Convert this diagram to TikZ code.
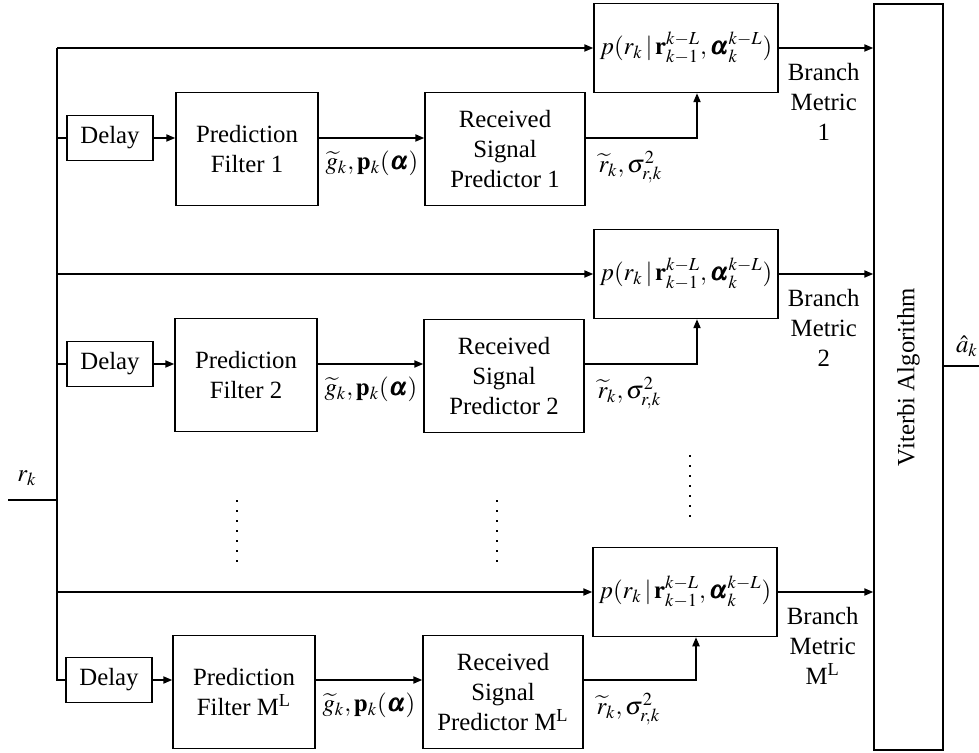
\documentclass[tikz,border=0pt]{standalone}
\usepackage{mathptmx}
\usepackage{bm}
\usepackage{fontspec}
\setmainfont{Liberation Serif}
\usetikzlibrary{arrows.meta, positioning}

\newcommand{\probtxt}{$p(r_k\,|\,\mathbf{r}_{k-1}^{k-L},\bm{\alpha}_k^{k-L})$}
\newcommand{\gtxt}{$\widetilde{g}_k,\mathbf{p}_k(\bm{\alpha})$}
\newcommand{\rtxt}{$\widetilde{r}_k,\sigma_{r,k}^2$}

\begin{document}
\begin{tikzpicture}[x=0.5pt, y=-0.5pt, line width=0.75pt,
    >={Triangle[length=4.5pt,width=3.6pt]},
    font=\fontsize{12.4}{15}\selectfont,
    blk/.style={draw, inner sep=1pt, align=center},
    delaybox/.style={blk, minimum width=43pt, minimum height=22.5pt},
    filterbox/.style={blk, minimum width=71pt, minimum height=56.5pt},
    predbox/.style={blk, minimum width=80pt, minimum height=56.5pt},
    probbox/.style={blk, minimum width=92pt, minimum height=44.5pt},
    lbl/.style={inner sep=1pt, anchor=north west},
    vdots/.style={line width=1pt, dash pattern=on 0.8pt off 4.2pt}
  ]
  \useasboundingbox (0,0) rectangle (979,753);

  % branch 1
  \node[delaybox] (d1) at (110,138) {Delay};
  \node[filterbox] (f1) at (247,149) {Prediction\\Filter 1};
  \node[predbox] (s1) at (505,149) {Received\\Signal\\Predictor 1};
  \node[probbox] (p1) at (686,48) {\probtxt};

  % branch 2
  \node[delaybox] (d2) at (110,364) {Delay};
  \node[filterbox] (f2) at (246,375) {Prediction\\Filter 2};
  \node[predbox] (s2) at (504,376) {Received\\Signal\\Predictor 2};
  \node[probbox] (p2) at (686,274) {\probtxt};

  % branch M^L
  \node[delaybox] (d3) at (109,680) {Delay};
  \node[filterbox] (f3) at (244,692) {Prediction\\Filter M\textsuperscript{L}};
  \node[predbox] (s3) at (503,692) {Received\\Signal\\Predictor M\textsuperscript{L}};
  \node[probbox] (p3) at (685,592) {\probtxt};

  % viterbi
  \node[blk, minimum width=34.5pt, minimum height=373pt] (vit) at (908.5,377) {};
  \node[rotate=90] at (vit) {Viterbi Algorithm};

  % input and bus
  \coordinate (in) at (8,500);
  \coordinate (bus) at (57,500);
  \node (rk) at (27,478) {$r_k$};
  \draw (in) -- (bus);
  \draw (bus |- p1.west) -- (bus |- d3.west) -- (d3.west);

  \foreach \i/\n in {1/1,2/2,3/M\textsuperscript{L}} {
    \draw[->] (bus |- p\i.west) -- (p\i.west);
    \draw[->] (d\i.east) -- (d\i.east -| f\i.west);
    \draw[->] (d\i.east -| f\i.east) -- (d\i.east -| s\i.west);
    \node[lbl] at ([xshift=2pt,yshift=-5pt]d\i.east -| f\i.east) {\gtxt};
    \draw[->] (d\i.east -| s\i.east) -| ([xshift=5.5pt]p\i.south);
    \node[lbl] at ([xshift=5pt,yshift=-5pt]d\i.east -| s\i.east) {\rtxt};
    \draw[->] (p\i.east) -- (p\i.east -| vit.west);
    \node[align=center, anchor=north] at ([xshift=22.5pt,yshift=-4pt]p\i.east) {Branch\\Metric\\\n};
  }
  \draw (bus |- d1.west) -- (d1.west);
  \draw (bus |- d2.west) -- (d2.west);

  % output
  \coordinate (out) at (979,366);
  \draw (vit.east |- out) -- (out);
  \node (ahat) at (967,346) {$\hat{a}_k$};

  % dots
  \draw[vdots] (237,500) -- (237,568);
  \draw[vdots] (497,500) -- (497,568);
  \draw[vdots] (690,455) -- (690,523);
\end{tikzpicture}
\end{document}
